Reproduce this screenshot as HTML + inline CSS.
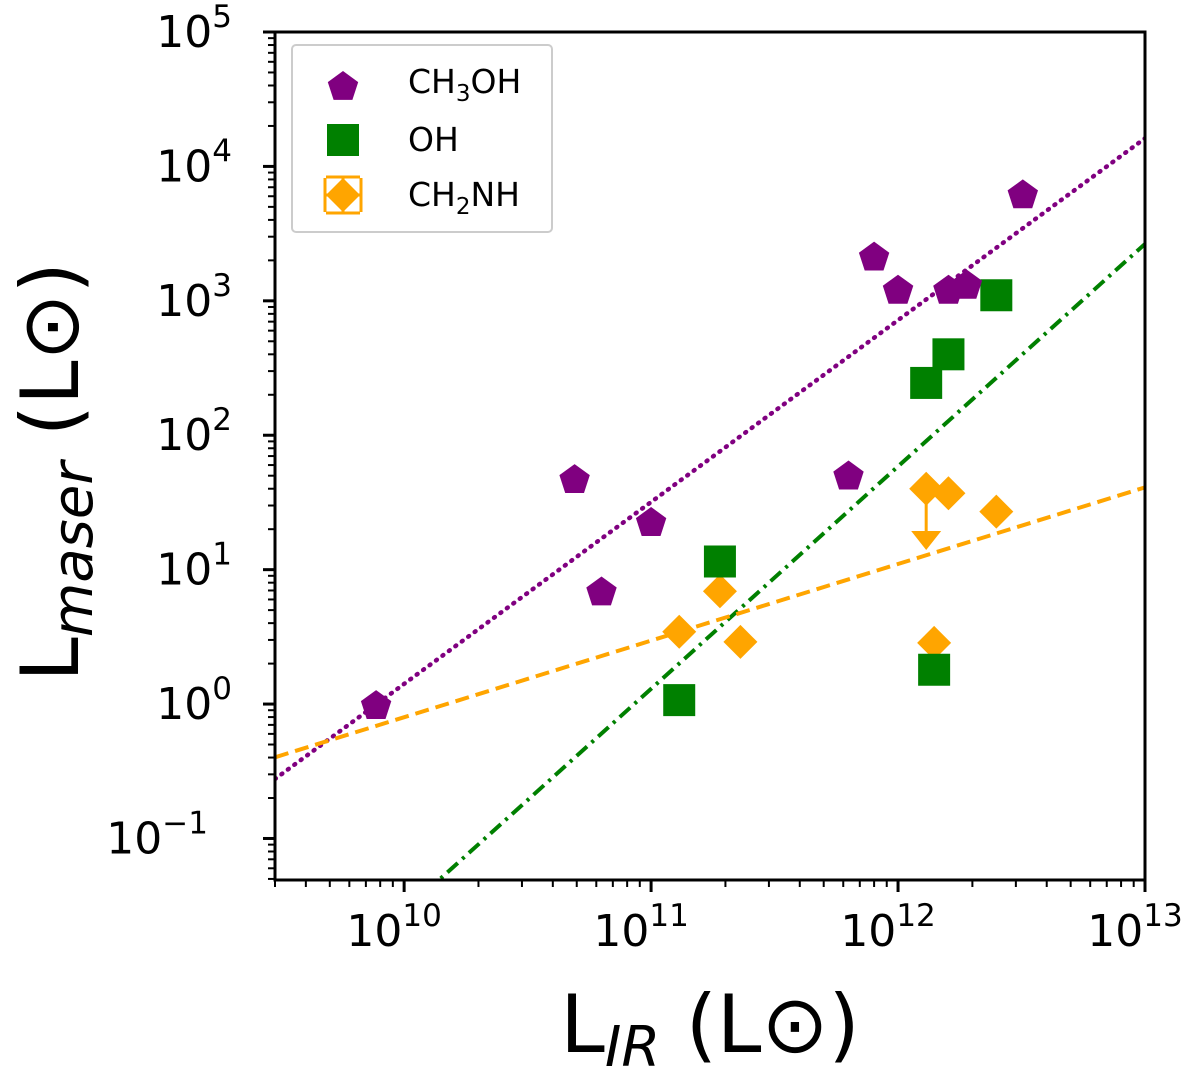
<!DOCTYPE html>
<html><head><meta charset="utf-8"><style>
body{margin:0;background:#fff}
svg{display:block;font-family:"DejaVu Sans","Liberation Sans",sans-serif}
</style></head><body>
<svg id="c" width="1200" height="1076" viewBox="0 0 1200 1076"></svg>
<script>
const ch3ohX=[7.7e9,4.9e10,6.3e10,1.0e11,6.3e11,8.0e11,1.0e12,1.6e12,1.9e12,3.2e12];
const ch3ohY=[1.0,48,7,23,51,2170,1230,1230,1340,6300];
const ohX=[1.3e11,1.9e11,1.3e12,1.6e12,2.5e12,1.4e12];
const ohY=[1.07,11.5,245,400,1100,1.8];
const ch2nhX=[1.3e11,1.9e11,2.3e11,1.3e12,1.6e12,2.5e12,1.4e12];
const ch2nhY=[3.45,6.9,2.9,40,37,27,2.85];
const ch2nhLimitIdx=[3];
const ch2nhLimitTo=[15];
const fitSlope=[1.353,1.655,0.57];
const fitIntercept=[-0.567-1.353*9.47,-1.31-1.655*10.14,-0.40-0.57*9.47];
const xTickLabels=["10","10","10","10"];
const xTickExp=[10,11,12,13];
const yTickExp=[-1,0,1,2,3,4,5];

const L=275,R=1145,T=32,B=880;
const xmin=Math.log10(3e9),xmax=13.0, ymin=Math.log10(0.0491),ymax=5;
const X=v=>L+(Math.log10(v)-xmin)/(xmax-xmin)*(R-L);
const Y=v=>B-(Math.log10(v)-ymin)/(ymax-ymin)*(B-T);
const XL=l=>L+(l-xmin)/(xmax-xmin)*(R-L);
const YL=l=>B-(l-ymin)/(ymax-ymin)*(B-T);
const svg=document.getElementById('c');const NS='http://www.w3.org/2000/svg';
function el(t,a,p){const e=document.createElementNS(NS,t);for(const k in a)e.setAttribute(k,a[k]);(p||svg).appendChild(e);return e;}

const defs=el('defs',{});const cp=el('clipPath',{id:'clip'},defs);el('rect',{x:L,y:T,width:R-L,height:B-T},cp);

const lineStyles=[{c:'#800080',d:'1,7',w:4.5,cap:'round',n:'ch3oh-fit-line'},{c:'#008000',d:'14,6,3,6',w:4,cap:'butt',n:'oh-fit-line'},{c:'#ffa500',d:'14,7',w:4,cap:'butt',n:'ch2nh-fit-line'}];
for(let i=0;i<3;i++){
 const x1=xmin,x2=xmax;
 const l=el('line',{x1:XL(x1),y1:YL(fitIntercept[i]+fitSlope[i]*x1),x2:XL(x2),y2:YL(fitIntercept[i]+fitSlope[i]*x2),stroke:lineStyles[i].c,'stroke-width':lineStyles[i].w,'stroke-linecap':lineStyles[i].cap,'stroke-dasharray':lineStyles[i].d,'clip-path':'url(#clip)'});
 
 
}
function pent(cx,cy,r){let p=[];for(let k=0;k<5;k++){const a=-Math.PI/2+k*2*Math.PI/5;p.push((cx+r*Math.cos(a)).toFixed(1)+','+(cy+r*Math.sin(a)).toFixed(1));}return p.join(' ');}
function diamond(cx,cy,r){return `${cx},${cy-r} ${cx+r},${cy} ${cx},${cy+r} ${cx-r},${cy}`;}
for(let i=0;i<ch2nhX.length;i++){
 const cx=X(ch2nhX[i]),cy=Y(ch2nhY[i]);
 const li=ch2nhLimitIdx.indexOf(i);
 if(li>=0){const ty=Y(ch2nhLimitTo[li]);
  const a=el('line',{x1:cx,y1:cy,x2:cx,y2:ty-10,stroke:'#ffa500','stroke-width':3});
  
  const h=el('polygon',{points:`${cx-15},${ty-15} ${cx+15},${ty-15} ${cx},${ty+4}`,fill:'#ffa500'});
  }
 const p=el('polygon',{points:diamond(cx,cy,17),fill:'#ffa500'});
 
}
for(let i=0;i<ohX.length;i++){
 const cx=X(ohX[i]),cy=Y(ohY[i]);
 const p=el('rect',{x:cx-16,y:cy-16,width:32,height:32,fill:'#008000'});
 
}
for(let i=0;i<ch3ohX.length;i++){
 const p=el('polygon',{points:pent(X(ch3ohX[i]),Y(ch3ohY[i])+2,16),fill:'#800080'});
 
}
const fr=el('rect',{x:L,y:T,width:R-L,height:B-T,fill:'none',stroke:'#000','stroke-width':3});

for(let d=9;d<=13;d++)for(let m=1;m<10;m++){
 const l=d+Math.log10(m);if(l<xmin-1e-6||l>xmax+1e-6)continue;
 const x=XL(l);const len=m==1?12:7;
 el('line',{x1:x,y1:B,x2:x,y2:B+len,stroke:'#000','stroke-width':m==1?3:2});
}
for(let i=0;i<xTickExp.length;i++){
 const t=el('text',{x:XL(xTickExp[i])-10,y:B+66,'font-size':44,'text-anchor':'middle'});
 
 t.textContent=xTickLabels[i];
 const s=el('tspan',{dy:-20,'font-size':31},t);s.textContent=xTickExp[i];
}
for(let d=-2;d<=5;d++)for(let m=1;m<10;m++){
 const l=d+Math.log10(m);if(l<ymin-1e-6||l>ymax+1e-6)continue;
 const y=YL(l);const len=m==1?12:7;
 el('line',{x1:L,y1:y,x2:L-len,y2:y,stroke:'#000','stroke-width':m==1?3:2});
}
for(let i=0;i<yTickExp.length;i++){
 const e=yTickExp[i];const y=YL(e);
 const t=el('text',{x:e<0?208:232,y:y+15,'font-size':44,'text-anchor':'end'});
 
 t.textContent='10';
 const s=el('tspan',{dy:-20,'font-size':31},t);s.textContent=e<0?'\u22121':e;
}
const xt=el('text',{x:710,y:1052,'font-size':80,'text-anchor':'middle'});

xt.innerHTML='L<tspan font-style="italic" font-size="56" dy="14">IR</tspan><tspan dy="-14"> (L\u2299)</tspan>';
const yt=el('text',{x:0,y:0,'font-size':80,'text-anchor':'middle',transform:'translate(78,472) rotate(-90)'});

yt.innerHTML='L<tspan font-style="italic" font-size="56" dy="14">maser</tspan><tspan dy="-14"> (L\u2299)</tspan>';
const lg=el('g',{});
el('rect',{x:292,y:45,width:260,height:187,rx:4,fill:'#fff',stroke:'#ccc','stroke-width':2},lg);
const e1=el('g',{},lg);
el('polygon',{points:pent(343,87,16),fill:'#800080'},e1);
const t1=el('text',{x:408,y:93,'font-size':33},e1);t1.innerHTML='CH<tspan font-size="23" dy="8">3</tspan><tspan dy="-8">OH</tspan>';
const e2=el('g',{},lg);
el('rect',{x:327,y:124,width:32,height:32,fill:'#008000'},e2);
const t2=el('text',{x:408,y:151,'font-size':33},e2);t2.textContent='OH';
const e3=el('g',{},lg);
el('line',{x1:325,y1:195,x2:361,y2:195,stroke:'#ffa500','stroke-width':3},e3);
el('line',{x1:343,y1:177,x2:343,y2:213,stroke:'#ffa500','stroke-width':3},e3);
el('line',{x1:325,y1:178,x2:325,y2:212,stroke:'#ffa500','stroke-width':3},e3);
el('line',{x1:361,y1:178,x2:361,y2:212,stroke:'#ffa500','stroke-width':3},e3);
el('line',{x1:326,y1:177,x2:360,y2:177,stroke:'#ffa500','stroke-width':3},e3);
el('line',{x1:326,y1:213,x2:360,y2:213,stroke:'#ffa500','stroke-width':3},e3);
el('polygon',{points:diamond(343,195,17),fill:'#ffa500'},e3);
const t3=el('text',{x:408,y:206,'font-size':33},e3);t3.innerHTML='CH<tspan font-size="23" dy="8">2</tspan><tspan dy="-8">NH</tspan>';
</script>
</body></html>
